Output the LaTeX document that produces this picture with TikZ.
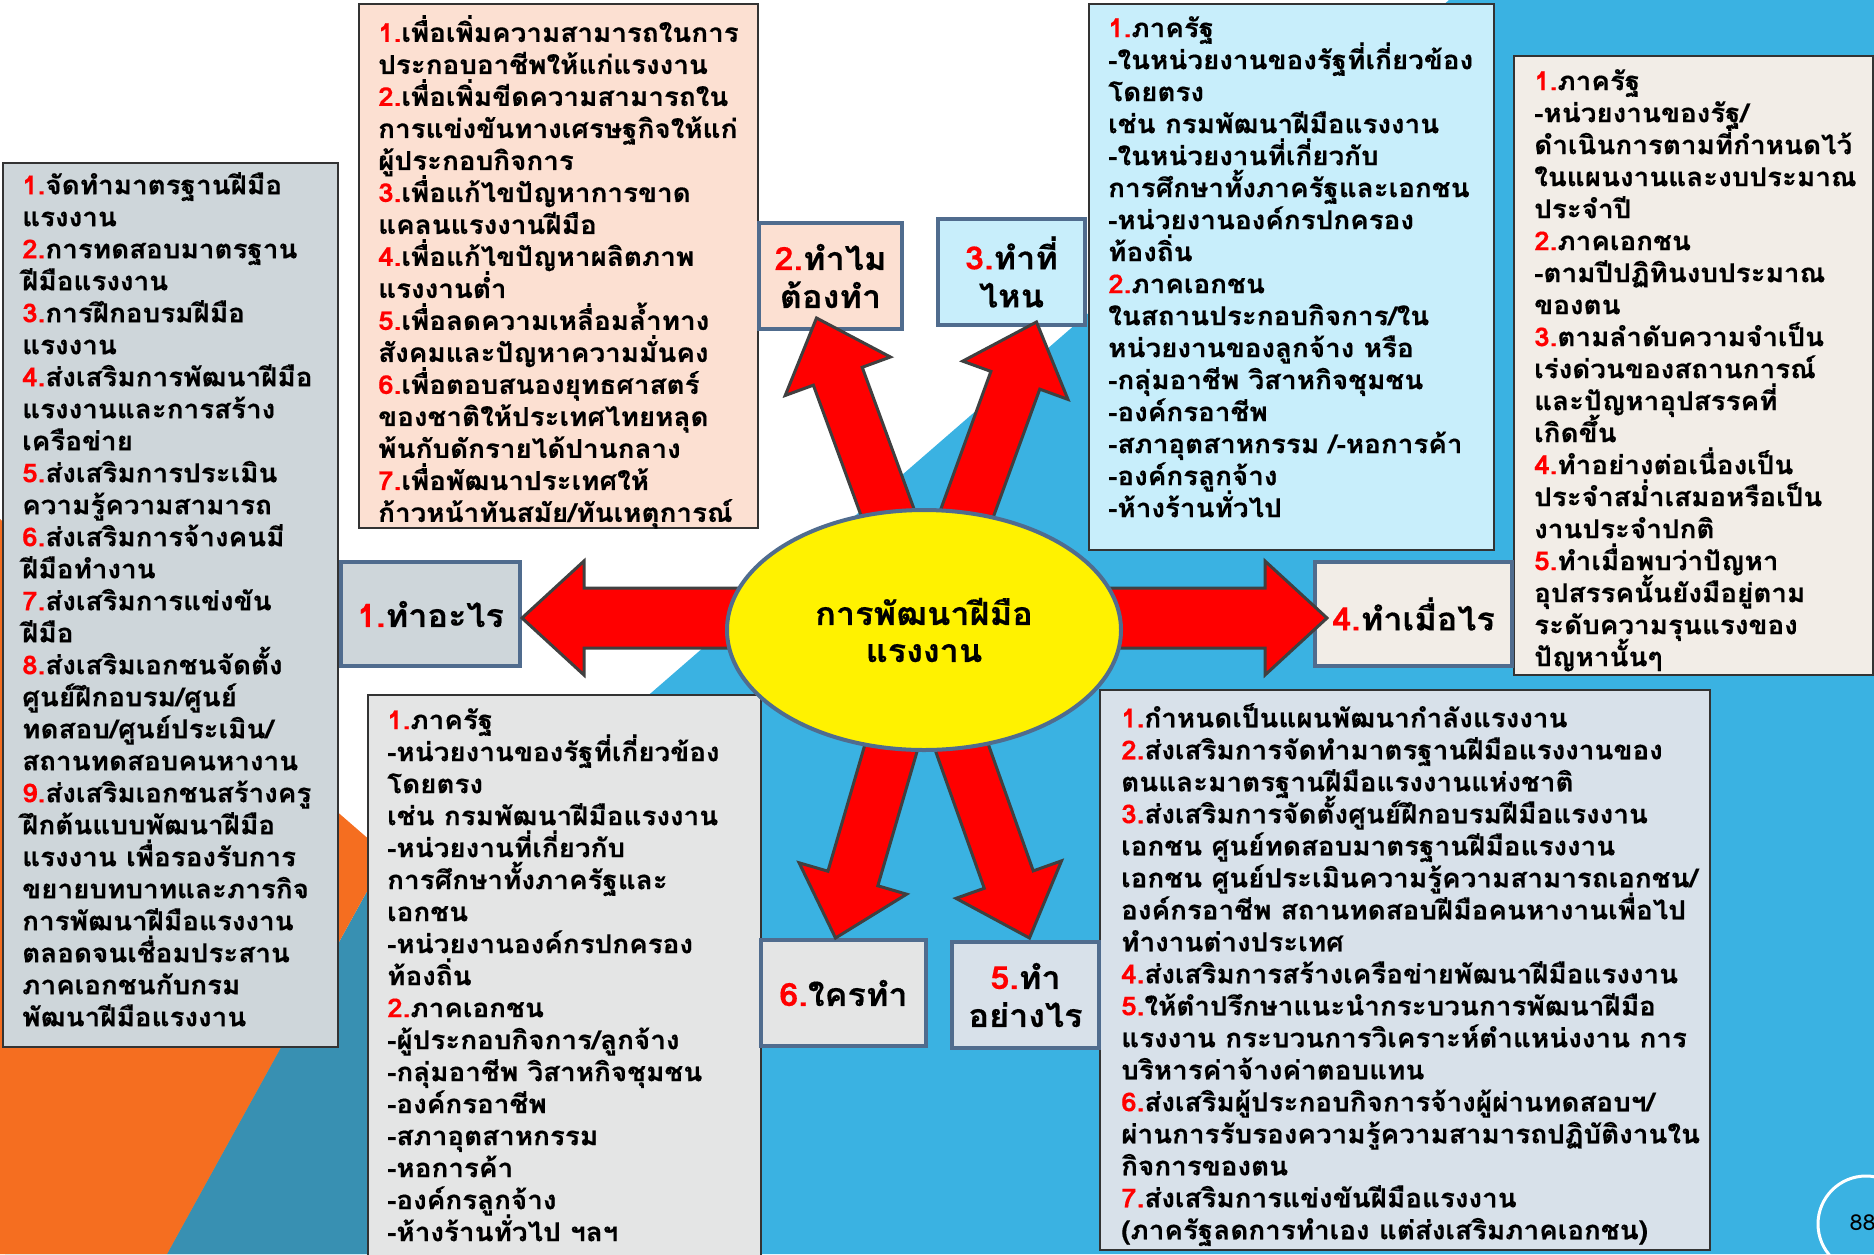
\documentclass[tikz,border=0pt]{standalone}
\usepackage{fontspec}
\usetikzlibrary{calc,shapes.geometric}
\newfontfamily\thaifont[Script=Thai, FakeStretch=1.07, BoldFeatures={FakeBold=0.4}]{Loma}
\newcommand\bodyfont{\thaifont\bfseries\fontsize{26}{32}\selectfont\lineskiplimit=-100pt\relax}
\newcommand\labfont{\thaifont\bfseries\fontsize{32}{38}\selectfont\lineskiplimit=-100pt\relax}
\newcommand\hubfont{\thaifont\bfseries\fontsize{32}{37}\selectfont\lineskiplimit=-100pt\relax}
\definecolor{skyblue}{RGB}{58,178,226}
\definecolor{tealband}{RGB}{56,144,178}
\definecolor{orangeband}{RGB}{245,110,32}
\definecolor{boxgray}{RGB}{206,214,218}
\definecolor{boxpeach}{RGB}{252,224,210}
\definecolor{boxblue}{RGB}{200,238,251}
\definecolor{boxbeige}{RGB}{242,237,231}
\definecolor{boxlight}{RGB}{228,229,229}
\definecolor{boxsteel}{RGB}{216,225,234}
\definecolor{frameblue}{RGB}{80,108,142}
\definecolor{numred}{RGB}{255,0,0}
\definecolor{arrowedge}{RGB}{64,64,64}
\newcommand\nr[1]{\textcolor{numred}{#1}}
% block arrow from a start coordinate to a tip coordinate
% #1 start, #2 tip, #3 half shaft width, #4 half head width, #5 head length
\newcommand\blockarrow[5]{%
  \coordinate (#1-h) at ($(#2)!#5!(#1)$);
  \draw[bigarrow] ($(#1)!#3!-90:(#2)$) -- ($(#1-h)!#3!-90:(#2)$) -- ($(#1-h)!#4!-90:(#2)$)
    -- (#2) -- ($(#1-h)!#4!90:(#2)$) -- ($(#1-h)!#3!90:(#2)$) -- ($(#1)!#3!90:(#2)$) -- cycle;}
\tikzset{
  listbox/.style={draw=black!80, line width=2pt, anchor=north west, inner sep=0pt},
  listtext/.style={anchor=north west, inner sep=0pt, align=left, font=\bodyfont},
  labelbox/.style={draw=frameblue, line width=4pt, inner sep=0pt, align=center, font=\labfont},
  bigarrow/.style={fill=numred, draw=arrowedge, line width=3pt, line join=miter},
}
\begin{document}
\begin{tikzpicture}[x=1pt, y=-1pt]
\useasboundingbox (0,0) rectangle (1874,1254);
% backdrop: white, a blue diagonal field, and the teal and orange wedges at the lower left
\fill[white] (0,0) rectangle (1874,1254);
\fill[skyblue] (1449,0) -- (1874,0) -- (1874,1254) -- (5,1254) -- cycle;
\fill[tealband] (387,855) -- (420,855) -- (420,1254) -- (167,1254) -- cycle;
\fill[orangeband] (0,519) -- (387,855) -- (167,1254) -- (0,1254) -- cycle;

% list boxes
\node[listbox, fill=boxgray, minimum width=335pt, minimum height=884pt] (whatbox) at (2,162) {};
\node[listtext] (whattext) at (22,172) {\nr{1.}จัดทำมาตรฐานฝีมือ\\แรงงาน\\\nr{2.}การทดสอบมาตรฐาน\\ฝีมือแรงงาน\\\nr{3.}การฝึกอบรมฝีมือ\\แรงงาน\\\nr{4.}ส่งเสริมการพัฒนาฝีมือ\\แรงงานและการสร้าง\\เครือข่าย\\\nr{5.}ส่งเสริมการประเมิน\\ความรู้ความสามารถ\\\nr{6.}ส่งเสริมการจ้างคนมี\\ฝีมือทำงาน\\\nr{7.}ส่งเสริมการแข่งขัน\\ฝีมือ\\\nr{8.}ส่งเสริมเอกชนจัดตั้ง\\ศูนย์ฝึกอบรม/ศูนย์\\ทดสอบ/ศูนย์ประเมิน/\\สถานทดสอบคนหางาน\\\nr{9.}ส่งเสริมเอกชนสร้างครู\\ฝึกต้นแบบพัฒนาฝีมือ\\แรงงาน เพื่อรองรับการ\\ขยายบทบาทและภารกิจ\\การพัฒนาฝีมือแรงงาน\\ตลอดจนเชื่อมประสาน\\ภาคเอกชนกับกรม\\พัฒนาฝีมือแรงงาน};

\node[listbox, fill=boxpeach, minimum width=399pt, minimum height=524pt] (whybox) at (358,3) {};
\node[listtext] (whytext) at (378,15) {\nr{1.}เพื่อเพิ่มความสามารถในการ\\ประกอบอาชีพให้แก่แรงงาน\\\nr{2.}เพื่อเพิ่มขีดความสามารถใน\\การแข่งขันทางเศรษฐกิจให้แก่\\ผู้ประกอบกิจการ\\\nr{3.}เพื่อแก้ไขปัญหาการขาด\\แคลนแรงงานฝีมือ\\\nr{4.}เพื่อแก้ไขปัญหาผลิตภาพ\\แรงงานต่ำ\\\nr{5.}เพื่อลดความเหลื่อมล้ำทาง\\สังคมและปัญหาความมั่นคง\\\nr{6.}เพื่อตอบสนองยุทธศาสตร์\\ของชาติให้ประเทศไทยหลุด\\พ้นกับดักรายได้ปานกลาง\\\nr{7.}เพื่อพัฒนาประเทศให้\\ก้าวหน้าทันสมัย/ทันเหตุการณ์};

\node[listbox, fill=boxblue, minimum width=405pt, minimum height=546pt] (wherebox) at (1088,3) {};
\node[listtext] (wheretext) at (1108,16) {\nr{1.}ภาครัฐ\\-ในหน่วยงานของรัฐที่เกี่ยวข้อง\\โดยตรง\\เช่น กรมพัฒนาฝีมือแรงงาน\\-ในหน่วยงานที่เกี่ยวกับ\\การศึกษาทั้งภาครัฐและเอกชน\\-หน่วยงานองค์กรปกครอง\\ท้องถิ่น\\\nr{2.}ภาคเอกชน\\ในสถานประกอบกิจการ/ใน\\หน่วยงานของลูกจ้าง หรือ\\-กลุ่มอาชีพ วิสาหกิจชุมชน\\-องค์กรอาชีพ\\-สภาอุตสาหกรรม /-หอการค้า\\-องค์กรลูกจ้าง\\-ห้างร้านทั่วไป};

\node[listbox, fill=boxbeige, minimum width=359pt, minimum height=619pt] (whenbox) at (1513,55) {};
\node[listtext] (whentext) at (1534,69) {\nr{1.}ภาครัฐ\\-หน่วยงานของรัฐ/\\ดำเนินการตามที่กำหนดไว้\\ในแผนงานและงบประมาณ\\ประจำปี\\\nr{2.}ภาคเอกชน\\-ตามปีปฏิทินงบประมาณ\\ของตน\\\nr{3.}ตามลำดับความจำเป็น\\เร่งด่วนของสถานการณ์\\และปัญหาอุปสรรคที่\\เกิดขึ้น\\\nr{4.}ทำอย่างต่อเนื่องเป็น\\ประจำสม่ำเสมอหรือเป็น\\งานประจำปกติ\\\nr{5.}ทำเมื่อพบว่าปัญหา\\อุปสรรคนั้นยังมือยู่ตาม\\ระดับความรุนแรงของ\\ปัญหานั้นๆ};

\node[listbox, fill=boxlight, minimum width=393pt, minimum height=564pt] (whobox) at (367,694) {};
\node[listtext] (whotext) at (387,708) {\nr{1.}ภาครัฐ\\-หน่วยงานของรัฐที่เกี่ยวข้อง\\โดยตรง\\เช่น กรมพัฒนาฝีมือแรงงาน\\-หน่วยงานที่เกี่ยวกับ\\การศึกษาทั้งภาครัฐและ\\เอกชน\\-หน่วยงานองค์กรปกครอง\\ท้องถิ่น\\\nr{2.}ภาคเอกชน\\-ผู้ประกอบกิจการ/ลูกจ้าง\\-กลุ่มอาชีพ วิสาหกิจชุมชน\\-องค์กรอาชีพ\\-สภาอุตสาหกรรม\\-หอการค้า\\-องค์กรลูกจ้าง\\-ห้างร้านทั่วไป ฯลฯ};

\node[listbox, fill=boxsteel, minimum width=610pt, minimum height=560pt] (howbox) at (1099,689) {};
\node[listtext] (howtext) at (1121,703) {\nr{1.}กำหนดเป็นแผนพัฒนากำลังแรงงาน\\\nr{2.}ส่งเสริมการจัดทำมาตรฐานฝีมือแรงงานของ\\ตนและมาตรฐานฝีมือแรงงานแห่งชาติ\\\nr{3.}ส่งเสริมการจัดตั้งศูนย์ฝึกอบรมฝีมือแรงงาน\\เอกชน ศูนย์ทดสอบมาตรฐานฝีมือแรงงาน\\เอกชน ศูนย์ประเมินความรู้ความสามารถเอกชน/\\องค์กรอาชีพ สถานทดสอบฝีมือคนหางานเพื่อไป\\ทำงานต่างประเทศ\\\nr{4.}ส่งเสริมการสร้างเครือข่ายพัฒนาฝีมือแรงงาน\\\nr{5.}ให้ตำปรึกษาแนะนำกระบวนการพัฒนาฝีมือ\\แรงงาน กระบวนการวิเคราะห์ตำแหน่งงาน การ\\บริหารค่าจ้างค่าตอบแทน\\\nr{6.}ส่งเสริมผู้ประกอบกิจการจ้างผู้ผ่านทดสอบฯ/\\ผ่านการรับรองความรู้ความสามารถปฏิบัติงานใน\\กิจการของตน\\\nr{7.}ส่งเสริมการแข่งขันฝีมือแรงงาน\\(ภาครัฐลดการทำเอง แต่ส่งเสริมภาคเอกชน)};

% question labels
\node[labelbox, fill=boxgray, minimum width=179pt, minimum height=104pt] (lab1) at (430.5,614) {\nr{1.}ทำอะไร};
\node[labelbox, fill=boxpeach, minimum width=143pt, minimum height=106pt] (lab2) at (830.5,276) {\nr{2.}ทำไม\\ต้องทำ};
\node[labelbox, fill=boxblue, minimum width=147pt, minimum height=106pt] (lab3) at (1011.5,272) {\nr{3.}ทำที่\\ไหน};
\node[labelbox, fill=boxbeige, minimum width=197pt, minimum height=104pt] (lab4) at (1413.5,614) {\nr{4.}ทำเมื่อไร};
\node[labelbox, fill=boxsteel, minimum width=147pt, minimum height=106pt] (lab5) at (1025.5,995) {\nr{5.}ทำ\\อย่างไร};
\node[labelbox, fill=boxlight, minimum width=165pt, minimum height=106pt] (lab6) at (843.5,993) {\nr{6.}ใครทำ};

% arrows from the hub to the labels
\coordinate (s1) at (780,618);  \coordinate (t1) at ($(lab1.east)+(0,4)$);
\coordinate (s4) at (1070,618); \coordinate (t4) at ($(lab4.west)+(14,4)$);
\coordinate (s2) at (905,560);  \coordinate (t2) at ($(lab2.south)+(-14,-13)$);
\coordinate (s3) at (950,560);  \coordinate (t3) at ($(lab3.south)+(25,-5)$);
\coordinate (s6) at (905,700);  \coordinate (t6) at ($(lab6.north)+(-8,0)$);
\coordinate (s5) at (945,700);  \coordinate (t5) at ($(lab5.north)+(4,-2)$);
\blockarrow{s1}{t1}{30pt}{57pt}{62pt}
\blockarrow{s4}{t4}{30pt}{57pt}{62pt}
\blockarrow{s2}{t2}{26pt}{56pt}{62pt}
\blockarrow{s3}{t3}{26pt}{56pt}{62pt}
\blockarrow{s6}{t6}{26pt}{56pt}{62pt}
\blockarrow{s5}{t5}{26pt}{56pt}{62pt}

% hub
\node[ellipse, draw=frameblue, line width=4pt, fill=yellow, minimum width=394pt, minimum height=240pt,
      align=center, font=\hubfont] (hub) at (924,630) {การพัฒนาฝีมือ\\แรงงาน};

% page number
\node[circle, draw=white, line width=3pt, minimum size=96pt] (pgring) at (1866,1224) {};
\node[font=\thaifont\fontsize{22}{26}\selectfont, anchor=west] (pgnum) at (1846,1223) {88};
\end{tikzpicture}
\end{document}
